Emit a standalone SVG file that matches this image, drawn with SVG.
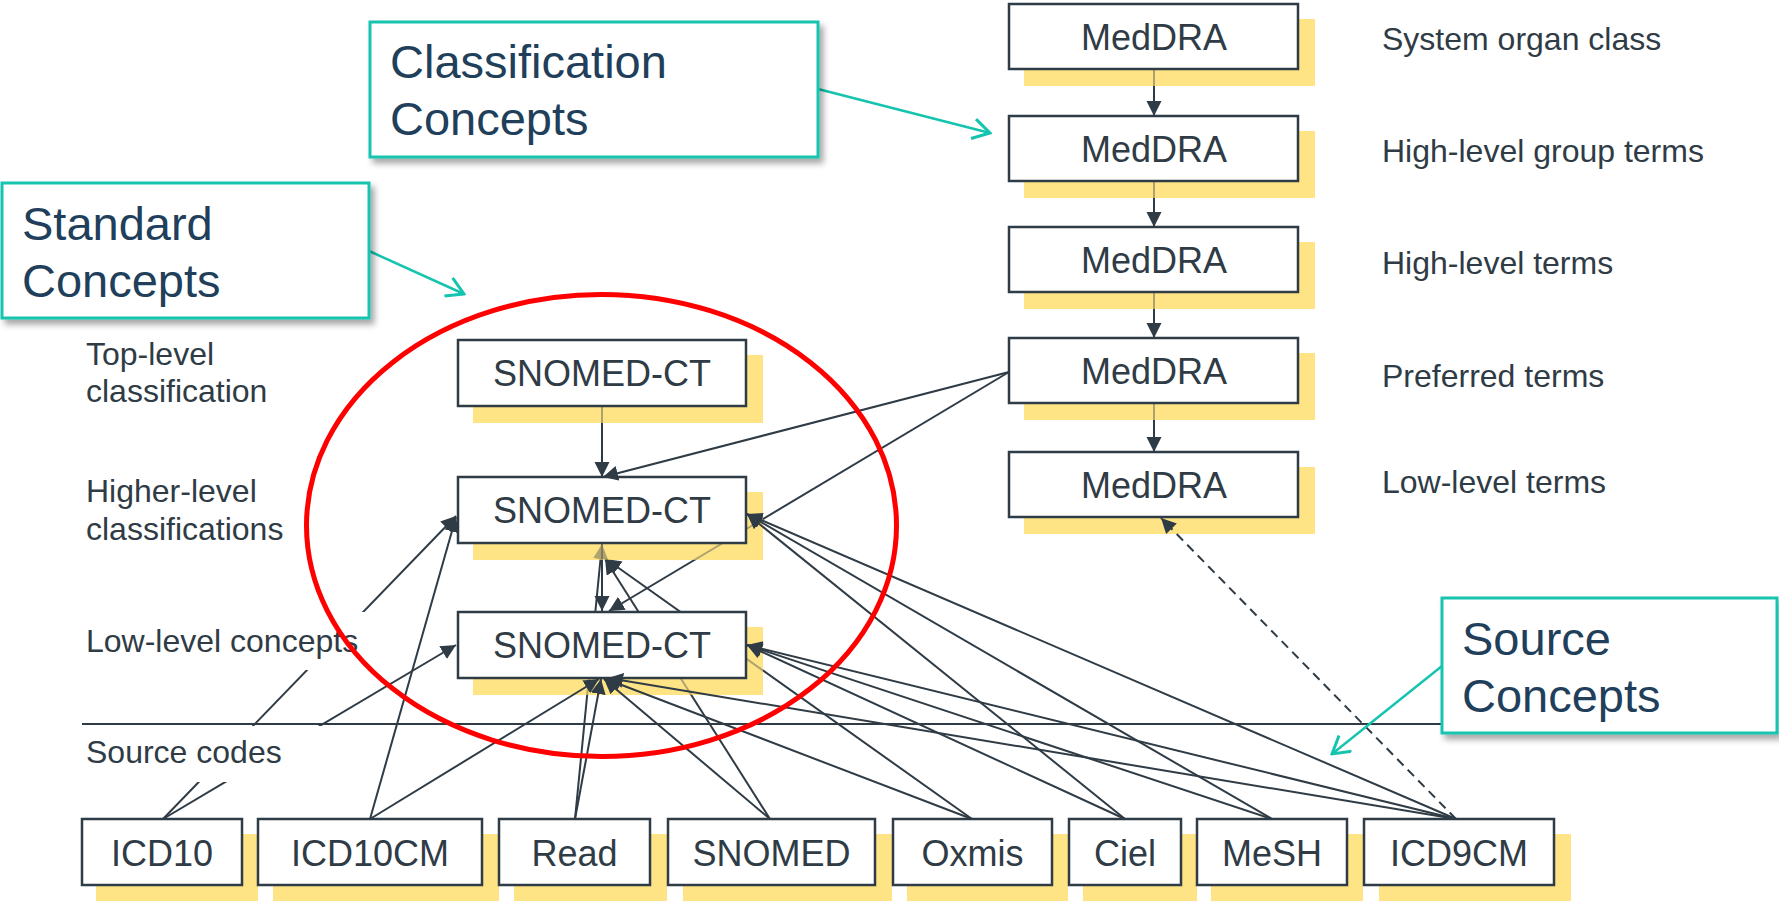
<svg xmlns="http://www.w3.org/2000/svg" width="1779" height="901" viewBox="0 0 1779 901">
<defs>
<style>
.box{fill:#fff;stroke:#2F3B45;stroke-width:2.5}
.shadow{fill:#FFD43B;fill-opacity:0.62}
.bt{font-family:"Liberation Sans",Arial,sans-serif;font-size:36px;fill:#2F3B45;text-anchor:middle}
.lbl{font-family:"Liberation Sans",Arial,sans-serif;font-size:32px;fill:#2F3B45}
.lblbg{fill:#fff}
.co{fill:#fff;stroke:#14C4AF;stroke-width:3;filter:url(#ds)}
.cot{font-family:"Liberation Sans",Arial,sans-serif;font-size:47px;fill:#213F5B}
.edge{stroke:#2F3B45;stroke-width:2;fill:none;marker-end:url(#ah)}
.behind{mask:url(#behind)}
.dash{stroke-dasharray:9 6}
.tl{stroke:#14C4AF;stroke-width:2.5;fill:none;marker-end:url(#oh)}
.sep{stroke:#2F3B45;stroke-width:2}
.mg{fill:#626262}
.mb{fill:#000}
</style>
<marker id="ah" markerUnits="userSpaceOnUse" viewBox="0 0 16 16" markerWidth="16" markerHeight="16" refX="15" refY="7.5" orient="auto"><path d="M0,0 L15,7.5 L0,15 Z" fill="#2F3B45"/></marker>
<marker id="oh" markerUnits="userSpaceOnUse" viewBox="0 0 20 22" markerWidth="20" markerHeight="22" refX="18" refY="11" orient="auto"><path d="M1,1 L18,11 L1,21" fill="none" stroke="#14C4AF" stroke-width="3"/></marker>
<filter id="ds" x="-10%" y="-10%" width="130%" height="140%"><feDropShadow dx="4" dy="5" stdDeviation="3" flood-color="#000" flood-opacity="0.35"/></filter>
<mask id="behind" maskUnits="userSpaceOnUse" x="0" y="0" width="1779" height="901">
<rect x="0" y="0" width="1779" height="901" fill="#fff"/>
<rect class="mg" x="1024" y="19" width="291" height="67"/>
<rect class="mg" x="1024" y="131" width="291" height="67"/>
<rect class="mg" x="1024" y="242" width="291" height="67"/>
<rect class="mg" x="1024" y="353" width="291" height="67"/>
<rect class="mg" x="1024" y="467" width="291" height="67"/>
<rect class="mg" x="473" y="355" width="290" height="68"/>
<rect class="mg" x="473" y="492" width="290" height="68"/>
<rect class="mg" x="473" y="627" width="290" height="68"/>
<rect class="mb" x="1009" y="4" width="289" height="65"/>
<rect class="mb" x="1009" y="116" width="289" height="65"/>
<rect class="mb" x="1009" y="227" width="289" height="65"/>
<rect class="mb" x="1009" y="338" width="289" height="65"/>
<rect class="mb" x="1009" y="452" width="289" height="65"/>
<rect class="mb" x="458" y="340" width="288" height="66"/>
<rect class="mb" x="458" y="477" width="288" height="66"/>
<rect class="mb" x="458" y="612" width="288" height="66"/>
</mask>
</defs>
<rect width="1779" height="901" fill="#fff"/>

<g id="separator"><line class="sep" x1="82" y1="724" x2="1442" y2="724"/></g>

<g id="meddra-1"><rect class="shadow" x="1024" y="19" width="291" height="67"/><rect class="box" x="1009" y="4" width="289" height="65"/><text class="bt" x="1154" y="50">MedDRA</text></g>
<g id="meddra-2"><rect class="shadow" x="1024" y="131" width="291" height="67"/><rect class="box" x="1009" y="116" width="289" height="65"/><text class="bt" x="1154" y="162">MedDRA</text></g>
<g id="meddra-3"><rect class="shadow" x="1024" y="242" width="291" height="67"/><rect class="box" x="1009" y="227" width="289" height="65"/><text class="bt" x="1154" y="273">MedDRA</text></g>
<g id="meddra-4"><rect class="shadow" x="1024" y="353" width="291" height="67"/><rect class="box" x="1009" y="338" width="289" height="65"/><text class="bt" x="1154" y="384">MedDRA</text></g>
<g id="meddra-5"><rect class="shadow" x="1024" y="467" width="291" height="67"/><rect class="box" x="1009" y="452" width="289" height="65"/><text class="bt" x="1154" y="498">MedDRA</text></g>

<g id="snomedct-1"><rect class="shadow" x="473" y="355" width="290" height="68"/><rect class="box" x="458" y="340" width="288" height="66"/><text class="bt" x="602" y="386">SNOMED-CT</text></g>
<g id="snomedct-2"><rect class="shadow" x="473" y="492" width="290" height="68"/><rect class="box" x="458" y="477" width="288" height="66"/><text class="bt" x="602" y="523">SNOMED-CT</text></g>
<g id="snomedct-3"><rect class="shadow" x="473" y="627" width="290" height="68"/><rect class="box" x="458" y="612" width="288" height="66"/><text class="bt" x="602" y="658">SNOMED-CT</text></g>

<g id="src-icd10"><rect class="shadow" x="96" y="834" width="162" height="80"/><rect class="box" x="82" y="819" width="160" height="66"/><text class="bt" x="162" y="866">ICD10</text></g>
<g id="src-icd10cm"><rect class="shadow" x="273" y="834" width="226" height="80"/><rect class="box" x="258" y="819" width="224" height="66"/><text class="bt" x="370" y="866">ICD10CM</text></g>
<g id="src-read"><rect class="shadow" x="514" y="834" width="153" height="80"/><rect class="box" x="499" y="819" width="151" height="66"/><text class="bt" x="574.5" y="866">Read</text></g>
<g id="src-snomed"><rect class="shadow" x="683" y="834" width="209" height="80"/><rect class="box" x="668" y="819" width="207" height="66"/><text class="bt" x="771.5" y="866">SNOMED</text></g>
<g id="src-oxmis"><rect class="shadow" x="907" y="834" width="161" height="80"/><rect class="box" x="893" y="819" width="159" height="66"/><text class="bt" x="972.5" y="866">Oxmis</text></g>
<g id="src-ciel"><rect class="shadow" x="1083" y="834" width="114" height="80"/><rect class="box" x="1069" y="819" width="112" height="66"/><text class="bt" x="1125" y="866">Ciel</text></g>
<g id="src-mesh"><rect class="shadow" x="1211" y="834" width="152" height="80"/><rect class="box" x="1197" y="819" width="150" height="66"/><text class="bt" x="1272" y="866">MeSH</text></g>
<g id="src-icd9cm"><rect class="shadow" x="1379" y="834" width="192" height="80"/><rect class="box" x="1364" y="819" width="190" height="66"/><text class="bt" x="1459" y="866">ICD9CM</text></g>

<g id="connectors">
<line class="edge" x1="163" y1="819" x2="456" y2="516"/>
<line class="edge" x1="163" y1="819" x2="456" y2="645"/>
<line class="edge" x1="370" y1="819" x2="456" y2="517"/>
<line class="edge" x1="370" y1="819" x2="599" y2="679"/>
<line class="edge behind" x1="575" y1="819" x2="602" y2="544"/>
<line class="edge" x1="575" y1="819" x2="601" y2="679"/>
<line class="edge behind" x1="770" y1="819" x2="605" y2="559"/>
<line class="edge" x1="770" y1="819" x2="604" y2="679"/>
<line class="edge behind" x1="972" y1="819" x2="606" y2="559"/>
<line class="edge" x1="972" y1="819" x2="606" y2="679"/>
<line class="edge" x1="1125" y1="819" x2="747" y2="514"/>
<line class="edge" x1="1125" y1="819" x2="747" y2="645"/>
<line class="edge" x1="1272" y1="819" x2="747" y2="514"/>
<line class="edge" x1="1272" y1="819" x2="747" y2="645"/>
<line class="edge" x1="1456" y1="819" x2="747" y2="514"/>
<line class="edge" x1="1456" y1="819" x2="747" y2="645"/>
<line class="edge" x1="1456" y1="819" x2="608" y2="678"/>
<line class="edge dash" x1="1456" y1="819" x2="1161" y2="518"/>
<line class="edge" x1="1009" y1="372" x2="603" y2="477"/>
<line class="edge behind" x1="1009" y1="372" x2="609" y2="611"/>
<line class="edge behind" x1="602" y1="406" x2="602" y2="477"/>
<line class="edge behind" x1="602" y1="543" x2="602" y2="611"/>
<line class="edge behind" x1="1154" y1="69" x2="1154" y2="116"/>
<line class="edge behind" x1="1154" y1="181" x2="1154" y2="227"/>
<line class="edge behind" x1="1154" y1="292" x2="1154" y2="338"/>
<line class="edge behind" x1="1154" y1="403" x2="1154" y2="452"/>
</g>

<g id="label-top"><text class="lbl" x="86" y="365">Top-level</text><text class="lbl" x="86" y="402">classification</text></g>
<g id="label-higher"><text class="lbl" x="86" y="502">Higher-level</text><text class="lbl" x="86" y="540">classifications</text></g>
<g id="label-low"><rect class="lblbg" x="75" y="612" width="295" height="58"/><text class="lbl" x="86" y="652">Low-level concepts</text></g>
<g id="label-source"><rect class="lblbg" x="75" y="726" width="275" height="56"/><text class="lbl" x="86" y="763">Source codes</text></g>
<g id="label-soc"><text class="lbl" x="1382" y="50">System organ class</text></g>
<g id="label-hlgt"><text class="lbl" x="1382" y="162">High-level group terms</text></g>
<g id="label-hlt"><text class="lbl" x="1382" y="274">High-level terms</text></g>
<g id="label-pt"><text class="lbl" x="1382" y="387">Preferred terms</text></g>
<g id="label-llt"><text class="lbl" x="1382" y="493">Low-level terms</text></g>

<g id="standard-ellipse"><ellipse cx="601.5" cy="525.5" rx="295" ry="231" fill="none" stroke="#FF0000" stroke-width="5"/></g>

<g id="callout-classification"><line class="tl" x1="818" y1="89" x2="990" y2="133"/><rect class="co" x="370" y="22" width="448" height="135"/><text class="cot" x="390" y="78">Classification</text><text class="cot" x="390" y="135">Concepts</text></g>
<g id="callout-standard"><line class="tl" x1="369" y1="251" x2="464" y2="294"/><rect class="co" x="2" y="183" width="367" height="135"/><text class="cot" x="22" y="240">Standard</text><text class="cot" x="22" y="297">Concepts</text></g>
<g id="callout-source"><line class="tl" x1="1442" y1="666" x2="1332" y2="754"/><rect class="co" x="1442" y="598" width="335" height="135"/><text class="cot" x="1462" y="655">Source</text><text class="cot" x="1462" y="712">Concepts</text></g>
</svg>
